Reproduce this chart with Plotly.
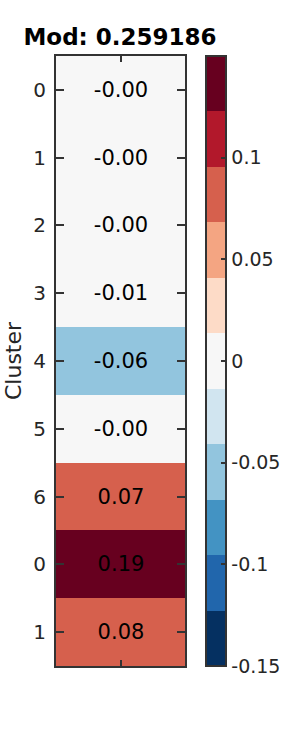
import plotly.graph_objects as go

# Data
cluster_labels = ["0", "1", "2", "3", "4", "5", "6", "0", "1"]
values = [-0.001, -0.002, -0.001, -0.01, -0.06, -0.003, 0.07, 0.19, 0.08]
title_text = "Mod: 0.259186"
cbar_tickvals = [-0.15, -0.1, -0.05, 0, 0.05, 0.1]
cbar_ticktext = ["-0.15", "-0.1", "-0.05", "0", "0.05", "0.1"]

# Discrete RdBu_r, 11 levels
rdbu_r = ["#053061", "#2166ac", "#4393c3", "#92c5de", "#d1e5f0", "#f7f7f7",
          "#fddbc7", "#f4a582", "#d6604d", "#b2182b", "#67001f"]
zmin, zmax = -0.15, 0.15
n = len(rdbu_r)
colorscale = []
for i, c in enumerate(rdbu_r):
    colorscale.append([i / n, c])
    colorscale.append([(i + 1) / n, c])

rows = list(range(len(values)))
z = [[v] for v in values]
text = [[f"{v:.2f}"] for v in values]

FONT = "DejaVu Sans"
DARK = "#262626"

fig = go.Figure(go.Heatmap(
    z=z, x=[0], y=rows,
    zmin=zmin, zmax=zmax, colorscale=colorscale,
    text=text, texttemplate="%{text}",
    textfont=dict(family=FONT, size=21, color="black"),
    hoverinfo="skip",
    colorbar=dict(
        thickness=20, thicknessmode="pixels",
        len=1, lenmode="fraction", y=0.5, yanchor="middle",
        x=(206 - 54) / 131, xanchor="left", xpad=0, ypad=0,
        outlinewidth=2, outlinecolor="#333333",
        tickmode="array", tickvals=cbar_tickvals, ticktext=cbar_ticktext,
        ticks="inside", ticklen=6, tickwidth=1.5, tickcolor="#333333",
        tickfont=dict(family=FONT, size=19, color=DARK),
    ),
))

fig.update_layout(
    width=300, height=750,
    margin=dict(l=54, r=115, t=56, b=84),
    paper_bgcolor="white", plot_bgcolor="white",
    title=dict(text="<b>" + title_text + "</b>", x=(120) / 300, xanchor="center",
               y=1 - 37 / 750, yanchor="middle", yref="container",
               font=dict(family=FONT, size=23, color="black")),
    xaxis=dict(tickmode="array", tickvals=[0], showticklabels=False,
               ticks="inside", ticklen=6, tickwidth=1.5, tickcolor="#333333",
               showline=True, linecolor="#333333", linewidth=2, mirror="ticks",
               showgrid=False, zeroline=False, range=[-0.5, 0.5]),
    yaxis=dict(tickmode="array", tickvals=rows, ticktext=cluster_labels,
               autorange="reversed",
               ticks="inside", ticklen=8, tickwidth=1.5, tickcolor="#333333",
               showline=True, linecolor="#333333", linewidth=2, mirror="ticks",
               showgrid=False, zeroline=False,
               tickfont=dict(family=FONT, size=20, color=DARK),
               ticklabelstandoff=4,
               title=dict(text="Cluster", font=dict(family=FONT, size=22, color=DARK),
                          standoff=6)),
)

fig.write_html("out.html")
